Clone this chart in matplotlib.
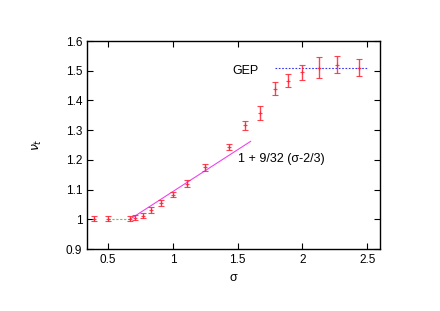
import numpy as np
import matplotlib.pyplot as plt
from matplotlib.ticker import FuncFormatter

plt.rcParams['font.family'] = ['Liberation Sans', 'DejaVu Sans']

# measured nu_t vs sigma
sigma = [0.39, 0.50, 0.67, 0.71, 0.77, 0.83, 0.91, 1.00, 1.11, 1.25, 1.43,
         1.56, 1.67, 1.79, 1.89, 2.00, 2.13, 2.27, 2.44]
nu_t = [1.002, 1.002, 1.002, 1.006, 1.013, 1.032, 1.055, 1.083, 1.120, 1.175, 1.243,
        1.316, 1.358, 1.440, 1.466, 1.495, 1.511, 1.521, 1.510]
nu_err = [0.008, 0.008, 0.008, 0.009, 0.010, 0.010, 0.009, 0.009, 0.011, 0.011, 0.010,
          0.016, 0.022, 0.021, 0.022, 0.025, 0.035, 0.030, 0.028]

gep_value = 1.508
gep_range = [1.79, 2.5]
flat_range = [0.5, 2 / 3]
lin_range = [2 / 3, 1.6]

fig = plt.figure(figsize=(4.4, 3.11), dpi=100)
ax = fig.add_axes([0.198, 0.199, 0.666, 0.669])

# reference curves
ax.plot(flat_range, [1, 1], color='#44dd44', lw=0.8, ls=(0, (2, 1.5)))
s = np.array(lin_range)
ax.plot(s, 1 + 9 / 32 * (s - 2 / 3), color='#ee44ee', lw=0.8)
ax.plot(gep_range, [gep_value, gep_value], color='#3333ff', lw=0.8, ls=(0, (1.5, 1.5)))

ax.errorbar(sigma, nu_t, yerr=nu_err, fmt='+', color='#ff2233', ms=3, mew=0.8,
            elinewidth=1.0, capsize=2, capthick=0.8, alpha=0.85)

ax.text(1.665, 1.498, 'GEP', ha='right', va='center', fontsize=9)
ax.text(1.50, 1.203, '1 + 9/32 (σ-2/3)', ha='left', va='center', fontsize=9)

ax.set_xlim(0.338, 2.6)
ax.set_ylim(0.9, 1.6)
ax.set_xticks([0.5, 1, 1.5, 2, 2.5])
ax.set_yticks(np.round(np.arange(0.9, 1.61, 0.1), 1))
fmt = FuncFormatter(lambda v, p: '%g' % v)
ax.xaxis.set_major_formatter(fmt)
ax.yaxis.set_major_formatter(fmt)
ax.tick_params(direction='in', top=True, right=True, length=4, width=0.8, labelsize=8.5)
for sp in ax.spines.values():
    sp.set_linewidth(1.0)

ax.set_xlabel('σ', fontsize=9)
ax.set_ylabel(r'$\nu_t$', fontsize=9, labelpad=16)

fig.savefig('out.png', dpi=100)
